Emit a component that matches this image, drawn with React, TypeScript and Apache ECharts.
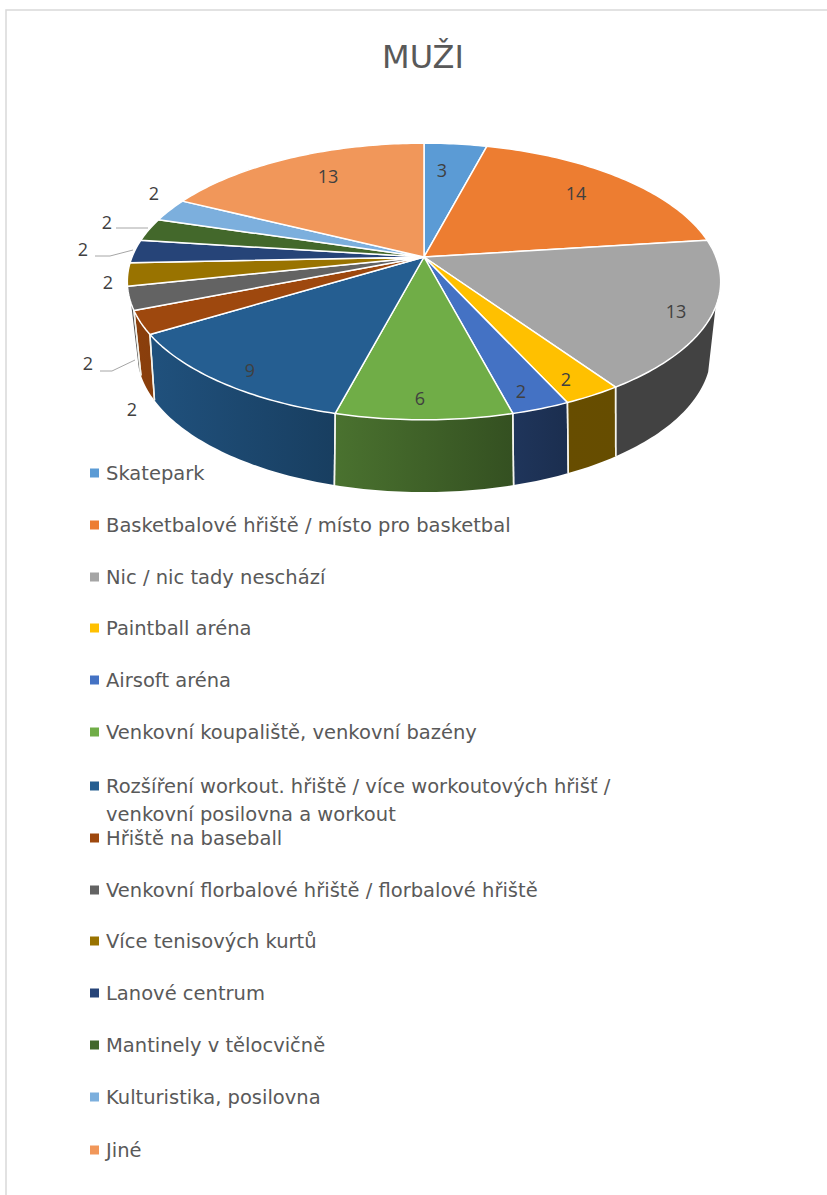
import React, { useEffect, useRef } from "react";
import * as echarts from "echarts";

const TITLE = "MUŽI";
const CATEGORIES = [
  "Skatepark",
  "Basketbalové hřiště / místo pro basketbal",
  "Nic / nic tady neschází",
  "Paintball aréna",
  "Airsoft aréna",
  "Venkovní koupaliště, venkovní bazény",
  "Rozšíření workout. hřiště / více workoutových hřišť /\nvenkovní posilovna a workout",
  "Hřiště na baseball",
  "Venkovní florbalové hřiště / florbalové hřiště",
  "Více tenisových kurtů",
  "Lanové centrum",
  "Mantinely v tělocvičně",
  "Kulturistika, posilovna",
  "Jiné",
];
const VALUES = [3, 14, 13, 2, 2, 6, 9, 2, 2, 2, 2, 2, 2, 13];
const COLORS = [
  "#5B9BD5", "#ED7D31", "#A5A5A5", "#FFC000", "#4472C4", "#70AD47", "#255E91",
  "#9E480E", "#636363", "#997300", "#264478", "#43682B", "#7CAFDD", "#F1975A",
];

// layout only
const LABEL_XY: [number, number][] = [
  [442, 170], [576, 193], [676, 311], [566, 379], [521, 391], [420, 398], [250, 370],
  [132, 409], [88, 363], [108, 282], [83, 249], [107, 222], [154, 193], [328, 176],
];
const LEADERS: Record<number, [number, number][]> = {
  8: [[100, 371], [112, 371], [135, 360]],
  10: [[95, 256], [110, 256], [133, 250]],
  11: [[116, 228], [148, 228]],
};
const LEGEND_Y = [473, 525, 577, 628, 680, 732, 786, 838, 890, 941, 993, 1045, 1097, 1150];
const FONT = '"Open Sans", "Noto Sans", sans-serif';
const LEGEND_FONT = '"DejaVu Sans", sans-serif';
const TOP = { cx: 424, cy: 257, R: 292, S: 134, k: 0.177 };
const BOTTOM = { cx: 424, cy: 321.5, R: 280, S: 133, k: 0.22 };
const SIDE_FROM = 110.5;
const SIDE_TO = 251;

const total = VALUES.reduce((a, b) => a + b, 0);
const toAngle = (v: number) => (v / total) * 360;
const starts = VALUES.map((_, i) => toAngle(VALUES.slice(0, i).reduce((a, b) => a + b, 0)));

function project(d: typeof TOP, deg: number): [number, number] {
  const t = (deg * Math.PI) / 180;
  const u = Math.sin(t);
  const v = -Math.cos(t);
  const den = 1 - d.k * v;
  return [d.cx + (d.R * u) / den, d.cy + (d.S * v) / den];
}
function arc(d: typeof TOP, a: number, b: number): [number, number][] {
  const n = Math.max(2, Math.ceil(Math.abs(b - a) / 1));
  const out: [number, number][] = [];
  for (let i = 0; i <= n; i++) out.push(project(d, a + ((b - a) * i) / n));
  return out;
}
function shade(hex: string, f: number) {
  const n = parseInt(hex.slice(1), 16);
  const c = (s: number) => Math.round(((n >> s) & 255) * f);
  return `rgb(${c(16)},${c(8)},${c(0)})`;
}
const factor = (x: number) => Math.max(0.4, Math.min(0.88, 0.88 - ((x - 135) / 435) * 0.48));

function renderSlice(i: number) {
  const a = starts[i];
  const b = a + toAngle(VALUES[i]);
  const children: any[] = [];
  const from = Math.max(a, SIDE_FROM);
  const to = Math.min(b, SIDE_TO);
  if (to > from) {
    const up = arc(TOP, from, to);
    const low = arc(BOTTOM, from, to);
    const pts = [...up, ...low.reverse()];
    const xs = pts.map((p) => p[0]);
    const x0 = Math.min(...xs);
    const x1 = Math.max(...xs);
    children.push({
      type: "polygon",
      z2: 1,
      shape: { points: pts },
      style: {
        fill: new echarts.graphic.LinearGradient(
          x0, 0, x1, 0,
          [
            { offset: 0, color: shade(COLORS[i], factor(x0)) },
            { offset: 1, color: shade(COLORS[i], factor(x1)) },
          ],
          true
        ),
        stroke: null,
      },
    });
    for (const e of [a, b]) {
      if (e > SIDE_FROM && e < SIDE_TO) {
        const p = project(TOP, e);
        const q = project(BOTTOM, e);
        children.push({
          type: "line",
          z2: 2,
          shape: { x1: p[0], y1: p[1], x2: q[0], y2: q[1] },
          style: { stroke: "#f4f4ee", lineWidth: 1.5 },
        });
      }
    }
  }
  children.push({
    type: "polygon",
    z2: 5,
    shape: { points: [[TOP.cx, TOP.cy], ...arc(TOP, a, b)] },
    style: { fill: COLORS[i], stroke: "#ffffff", lineWidth: 1.5, lineJoin: "round" },
  });
  if (LEADERS[i]) {
    children.push({
      type: "polyline",
      z2: 6,
      shape: { points: LEADERS[i] },
      style: { stroke: "#a6a6a6", lineWidth: 1, fill: null },
    });
  }
  children.push({
    type: "text",
    z2: 7,
    x: LABEL_XY[i][0],
    y: LABEL_XY[i][1],
    style: {
      text: String(VALUES[i]),
      fill: "#404040",
      fontSize: 18,
      fontFamily: FONT,
      align: "center",
      verticalAlign: "middle",
    },
  });
  return { type: "group", children };
}

export default function App() {
  const ref = useRef<HTMLDivElement>(null);
  useEffect(() => {
    document.body.style.margin = "0";
    const chart = echarts.init(ref.current!, undefined, { renderer: "svg" });
    const textStyle = { color: "#595959", fontSize: 19.5, fontFamily: LEGEND_FONT, lineHeight: 22, padding: [0, 0, 0, 2] };
    chart.setOption({
      animation: false,
      backgroundColor: "#ffffff",
      title: {
        text: TITLE,
        left: 418,
        top: 36,
        textAlign: "center",
        textStyle: { color: "#595959", fontSize: 32, fontWeight: "normal", fontFamily: LEGEND_FONT },
      },
      legend: CATEGORIES.map((name, i) => ({
        data: [name],
        left: 90,
        top: LEGEND_Y[i] - 11,
        padding: 0,
        icon: "rect",
        itemWidth: 9,
        itemHeight: 9,
        selectedMode: false,
        formatter: (n: string) => n.split("\n")[0],
        textStyle,
      })),
      graphic: [
        {
          type: "rect",
          silent: true,
          z: -1,
          shape: { x: 6, y: 10, width: 1000, height: 1400 },
          style: { fill: "transparent", stroke: "#d9d9d9", lineWidth: 1.5 },
        },
        {
          type: "text",
          silent: true,
          x: 106,
          y: 814,
          style: {
            text: CATEGORIES[6].split("\n")[1],
            fill: "#595959",
            fontSize: 19.5,
            fontFamily: LEGEND_FONT,
            verticalAlign: "middle",
          },
        },
      ],
      series: CATEGORIES.map((name, i) => ({
        type: "custom",
        name,
        coordinateSystem: "none",
        silent: true,
        itemStyle: { color: COLORS[i] },
        data: [[VALUES[i]]],
        renderItem: () => renderSlice(i),
      })),
    });
    return () => chart.dispose();
  }, []);
  return <div ref={ref} style={{ position: "absolute", left: 0, top: 0, width: 827, height: 1195 }} />;
}
